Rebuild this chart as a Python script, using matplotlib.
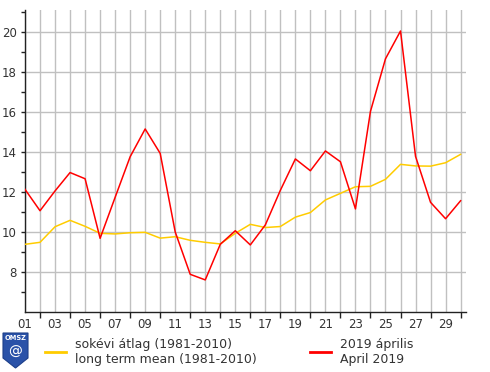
import matplotlib
matplotlib.use('Agg')
import matplotlib.pyplot as plt
from matplotlib.patches import Polygon
from matplotlib.lines import Line2D

days = list(range(1, 31))
day_labels = ['%02d' % d for d in range(1, 31, 2)]

# sokévi átlag / long term mean (1981-2010)
mean_vals = [9.4, 9.5, 10.28, 10.6, 10.3, 9.95, 9.92, 9.98, 10.0, 9.71,
             9.78, 9.6, 9.5, 9.42, 9.95, 10.4, 10.24, 10.29, 10.76, 10.99,
             11.62, 11.95, 12.28, 12.3, 12.65, 13.4, 13.32, 13.31, 13.48, 13.9]

# 2019 április / April 2019
april_vals = [12.15, 11.08, 12.07, 12.99, 12.68, 9.7, 11.75, 13.78, 15.17, 13.95,
              10.02, 7.9, 7.62, 9.4, 10.08, 9.37, 10.37, 12.1, 13.67, 13.08,
              14.07, 13.53, 11.17, 16.05, 18.68, 20.07, 13.8, 11.5, 10.68, 11.58]

mean_label = 'sokévi átlag (1981-2010)\nlong term mean (1981-2010)'
april_label = '2019 április\nApril 2019'

text_col = '#333333'
plt.rcParams['font.family'] = ['DejaVu Sans']

fig = plt.figure(figsize=(4.9, 3.72), dpi=100)
ax = fig.add_axes([25 / 490, 59.7 / 372, 441 / 490, 302.3 / 372])

ax.plot(days, mean_vals, color='#ffcc00', lw=1.1, zorder=3)
ax.plot(days, april_vals, color='#ff0000', lw=1.1, zorder=4)

ax.set_xlim(1, 30.36)
ax.set_ylim(6, 21.12)

ax.set_xticks(range(1, 31, 2))
ax.set_xticklabels(day_labels)
ax.set_xticks(range(2, 31, 2), minor=True)
ax.set_yticks(range(8, 21, 2))
ax.set_yticks(range(7, 22, 2), minor=True)

ax.grid(False)
for d in days:
    ax.axvline(d, color='#c0c0c0', lw=1, zorder=1)
for v in range(8, 21, 2):
    ax.axhline(v, color='#c0c0c0', lw=1, zorder=1)

for s in ['top', 'right']:
    ax.spines[s].set_visible(False)
for s in ['left', 'bottom']:
    ax.spines[s].set_color('#222222')
    ax.spines[s].set_linewidth(1)

ax.tick_params(axis='x', which='major', length=0, pad=4, labelsize=8.5, labelcolor=text_col)
ax.tick_params(axis='x', which='minor', length=4, width=1, color='#222222')
ax.tick_params(axis='y', which='both', length=3, width=1, color='#222222', pad=3,
               labelsize=8.5, labelcolor=text_col)

# OMSZ logo (simplified shield)
shield = [(3, 39), (28, 39), (28, 14), (15.5, 4), (3, 14)]
logo = Polygon([(x / 490, y / 372) for x, y in shield], closed=True,
               transform=fig.transFigure, facecolor='#2a52a8',
               edgecolor='#1d3f8a', lw=0.8)
fig.patches.append(logo)
fig.text(15.5 / 490, 33.5 / 372, 'OMSZ', color='white', fontsize=4.8,
         fontweight='bold', ha='center', va='center')
fig.text(15.5 / 490, 20 / 372, '@', color='white', fontsize=10,
         ha='center', va='center')

# legend
fig.add_artist(Line2D([45 / 490, 66 / 490], [20 / 372, 20 / 372],
                      color='#ffcc00', lw=2, transform=fig.transFigure))
fig.text(75 / 490, 20 / 372, mean_label, fontsize=9, color=text_col,
         va='center', ha='left', linespacing=1.2)
fig.add_artist(Line2D([310 / 490, 331 / 490], [20 / 372, 20 / 372],
                      color='#ff0000', lw=2, transform=fig.transFigure))
fig.text(340 / 490, 20 / 372, april_label, fontsize=9, color=text_col,
         va='center', ha='left', linespacing=1.2)

fig.savefig('out.png', dpi=100)
